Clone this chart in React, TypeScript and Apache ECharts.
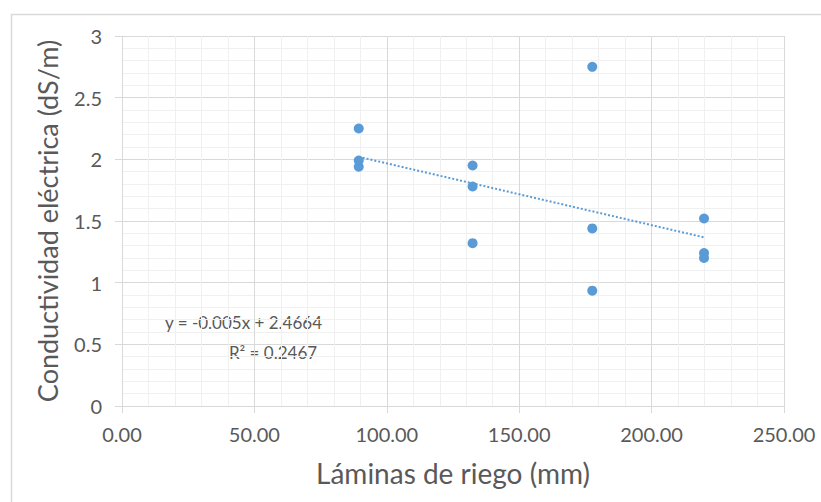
import React, { useEffect, useRef } from "react";
import * as echarts from "echarts";

// Data
const laminas: number[] = [89.4, 89.4, 89.4, 132.4, 132.4, 132.4, 177.6, 177.6, 177.6, 219.8, 219.8, 219.8];
const conductividad: number[] = [2.25, 1.99, 1.94, 1.95, 1.78, 1.32, 2.75, 1.44, 0.935, 1.52, 1.24, 1.2];
const equationText = "y = -0.005x + 2.4664";
const r2Text = "R² = 0.2467";
const xTitle = "Láminas de riego (mm)";
const yTitle = "Conductividad eléctrica (dS/m)";

const TEXT = "#595959";
const BLUE = "#5B9BD5";
const FONT = "Lato";

function fit(xs: number[], ys: number[]) {
  const n = xs.length;
  const mx = xs.reduce((a, b) => a + b, 0) / n;
  const my = ys.reduce((a, b) => a + b, 0) / n;
  let sxy = 0, sxx = 0;
  for (let i = 0; i < n; i++) {
    sxy += (xs[i] - mx) * (ys[i] - my);
    sxx += (xs[i] - mx) ** 2;
  }
  const slope = sxy / sxx;
  return { slope, intercept: my - slope * mx };
}

export default function App() {
  const ref = useRef<HTMLDivElement>(null);
  useEffect(() => {
    document.body.style.margin = "0";
    if (!ref.current) return;
    const chart = echarts.init(ref.current, null, { renderer: "svg" });
    const { slope, intercept } = fit(laminas, conductividad);
    const x0 = Math.min(...laminas);
    const x1 = Math.max(...laminas);
    const trend = [
      [x0, slope * x0 + intercept],
      [x1, slope * x1 + intercept],
    ];
    chart.setOption({
      animation: false,
      backgroundColor: "#ffffff",
      textStyle: { fontFamily: FONT },
      grid: { left: 122, top: 36, width: 662, height: 370 },
      xAxis: {
        type: "value",
        min: 0,
        max: 250,
        interval: 50,
        name: xTitle,
        nameLocation: "middle",
        nameGap: 53,
        nameTextStyle: { color: TEXT, fontSize: 28, fontFamily: FONT },
        axisLine: { show: true, lineStyle: { color: "#d9d9d9", width: 1 } },
        axisTick: { show: true, length: 7, lineStyle: { color: "#d9d9d9" } },
        axisLabel: {
          color: TEXT,
          fontSize: 20,
          fontFamily: FONT,
          margin: 18,
          formatter: (v: number) => v.toFixed(2),
        },
        splitLine: { show: true, lineStyle: { color: "#d9d9d9", width: 1 } },
        minorTick: { show: false, splitNumber: 5 },
        minorSplitLine: { show: true, lineStyle: { color: "#f0f0f0", width: 1 } },
      },
      yAxis: {
        type: "value",
        min: 0,
        max: 3,
        interval: 0.5,
        name: yTitle,
        nameLocation: "middle",
        nameGap: 61,
        nameTextStyle: { color: TEXT, fontSize: 27, fontFamily: FONT },
        axisLine: { show: true, lineStyle: { color: "#d9d9d9", width: 1 } },
        axisTick: { show: true, length: 7, lineStyle: { color: "#d9d9d9" } },
        axisLabel: { color: TEXT, fontSize: 20, fontFamily: FONT, margin: 20 },
        splitLine: { show: true, lineStyle: { color: "#d9d9d9", width: 1 } },
        minorTick: { show: false, splitNumber: 5 },
        minorSplitLine: { show: true, lineStyle: { color: "#f0f0f0", width: 1 } },
      },
      series: [
        {
          type: "line",
          data: trend,
          symbol: "none",
          silent: true,
          lineStyle: { color: BLUE, width: 2, type: [2, 2] },
          z: 2,
        },
        {
          type: "scatter",
          data: laminas.map((x, i) => [x, conductividad[i]]),
          symbol: "circle",
          symbolSize: 10,
          itemStyle: { color: BLUE, opacity: 1 },
          z: 3,
        },
      ],
      graphic: [
        {
          type: "rect",
          shape: { x: 11.5, y: 14.5, width: 900, height: 600 },
          style: { fill: "none", stroke: "#d9d9d9", lineWidth: 1.5 },
          silent: true,
        },
        {
          type: "text",
          x: 243.5,
          y: 322,
          style: {
            text: equationText,
            fill: TEXT,
            fontSize: 17,
            fontFamily: FONT,
            align: "center",
            verticalAlign: "middle",
          },
        },
        {
          type: "text",
          x: 273,
          y: 352,
          style: {
            text: r2Text,
            fill: TEXT,
            fontSize: 17,
            fontFamily: FONT,
            align: "center",
            verticalAlign: "middle",
          },
        },
      ],
    });
    return () => chart.dispose();
  }, []);
  return <div ref={ref} style={{ width: 821, height: 502 }} />;
}
